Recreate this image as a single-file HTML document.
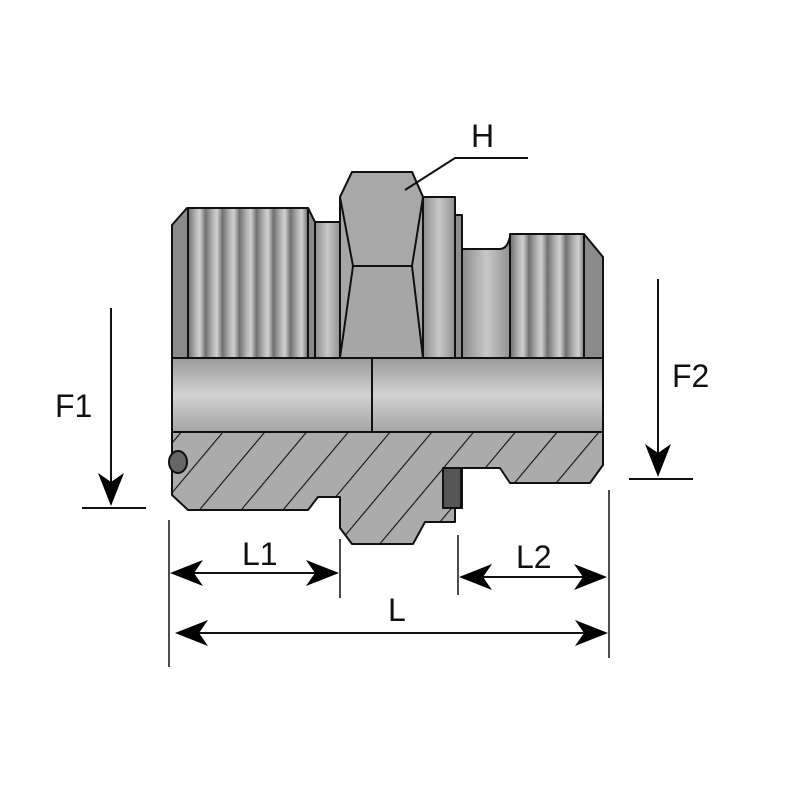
<!DOCTYPE html>
<html><head><meta charset="utf-8"><style>html,body{margin:0;padding:0;background:#fff}svg{display:block}</style></head>
<body>
<svg width="800" height="800" viewBox="0 0 800 800" xmlns="http://www.w3.org/2000/svg" font-family="Liberation Sans, sans-serif">
<defs>
<linearGradient id="thr" x1="0" x2="1" y1="0" y2="0">
<stop offset="0" stop-color="#6d6d6d"/><stop offset="0.45" stop-color="#b4b4b4"/><stop offset="0.7" stop-color="#d0d0d0"/><stop offset="1" stop-color="#7a7a7a"/>
</linearGradient>
<pattern id="thrp" width="17" height="10" patternUnits="userSpaceOnUse" x="188">
<rect width="17" height="10" fill="url(#thr)"/>
</pattern>
<pattern id="thrp2" width="18.5" height="10" patternUnits="userSpaceOnUse" x="510">
<rect width="18.5" height="10" fill="url(#thr)"/>
</pattern>
<linearGradient id="bore" x1="0" x2="0" y1="0" y2="1">
<stop offset="0" stop-color="#9a9a9a"/><stop offset="0.5" stop-color="#d2d2d2"/><stop offset="1" stop-color="#a4a4a4"/>
</linearGradient>
<linearGradient id="cyl" x1="0" x2="1" y1="0" y2="0">
<stop offset="0" stop-color="#8c8c8c"/><stop offset="0.5" stop-color="#c8c8c8"/><stop offset="1" stop-color="#909090"/>
</linearGradient>
<pattern id="hatch" width="32" height="32" patternUnits="userSpaceOnUse" patternTransform="rotate(40)">
<rect width="32" height="32" fill="#ababab"/>
<line x1="0" y1="0" x2="0" y2="32" stroke="#111" stroke-width="2.2"/>
</pattern>
<g id="ah"><path d="M0,0 L-33,-13 L-24,0 L-33,13 Z" fill="#000"/></g>
</defs>

<g stroke="#111" stroke-width="2" stroke-linejoin="round">
<path d="M172,225 L187,208 L308,208 L315,222 L315,358 L172,358 Z" fill="#8a8a8a"/>
<rect x="188" y="209" width="120" height="149" fill="url(#thrp)" stroke="none"/>
<line x1="188" y1="209" x2="188" y2="358"/>
<line x1="308" y1="209" x2="308" y2="358"/>
<rect x="315" y="222" width="25" height="136" fill="url(#cyl)"/>
<rect x="423" y="197" width="32" height="161" fill="url(#cyl)"/>
<rect x="455" y="215" width="7" height="143" fill="#8f8f8f"/>
<path d="M462,249 L500,249 Q505,249 508,243 L511,234 L511,358 L462,358 Z" fill="url(#cyl)"/>
<path d="M510,234 L584,234 L603,257 L603,358 L510,358 Z" fill="#8a8a8a"/>
<rect x="511" y="235" width="73" height="123" fill="url(#thrp2)" stroke="none"/>
<line x1="584" y1="235" x2="584" y2="358"/>
<path d="M352,172 L412,172 L423,197 L423,358 L340,358 L340,197 Z" fill="#a6a6a6"/>
<path d="M340,197 L352,172 L412,172 L423,197 L412,266 L353,266 Z" fill="#a8a8a8"/>
<path d="M353,266 L340,358 M412,266 L423,358" fill="none"/>
<rect x="172" y="358" width="200" height="74" fill="url(#bore)"/>
<rect x="372" y="358" width="231" height="74" fill="url(#bore)"/>
<path d="M172,432 L603,432 L603,465 L590,483 L510,483 L500,468 L462,468 L462,508 L455,508 L455,522 L425,522 L413,544 L352,544 L340,528 L340,497 L318,497 L308,510 L188,510 L172,495 Z" fill="url(#hatch)"/>
<rect x="443" y="468" width="18" height="40" fill="#555"/>
<ellipse cx="178" cy="462" rx="9" ry="11" fill="#666"/>
</g>

<g stroke="#111" stroke-width="2" fill="none">
<path d="M405,190 L455,158 L528,158"/>
</g>

<g stroke="#111" stroke-width="2">
<line x1="111" y1="308" x2="111" y2="490"/>
<line x1="82" y1="508" x2="146" y2="508"/>
<line x1="658" y1="279" x2="658" y2="460"/>
<line x1="629" y1="479" x2="693" y2="479"/>
<line x1="169" y1="520" x2="169" y2="667" stroke-width="1.5"/>
<line x1="340" y1="539" x2="340" y2="598" stroke-width="1.5"/>
<line x1="458" y1="535" x2="458" y2="595" stroke-width="1.5"/>
<line x1="609" y1="490" x2="609" y2="658" stroke-width="1.5"/>
<line x1="180" y1="573" x2="330" y2="573"/>
<line x1="470" y1="577" x2="598" y2="577"/>
<line x1="185" y1="633" x2="598" y2="633"/>
</g>
<use href="#ah" transform="translate(111,506) rotate(90)"/>
<use href="#ah" transform="translate(658,477) rotate(90)"/>
<use href="#ah" transform="translate(170,573) rotate(180)"/>
<use href="#ah" transform="translate(339,573)"/>
<use href="#ah" transform="translate(459,577) rotate(180)"/>
<use href="#ah" transform="translate(607,577)"/>
<use href="#ah" transform="translate(175,633) rotate(180)"/>
<use href="#ah" transform="translate(608,633)"/>

<g font-size="32" fill="#111">
<text x="55" y="417">F1</text>
<text x="672" y="387">F2</text>
<text x="471" y="147">H</text>
<text x="242" y="565">L1</text>
<text x="516" y="568">L2</text>
<text x="388" y="621">L</text>
</g>
</svg>
</body></html>
